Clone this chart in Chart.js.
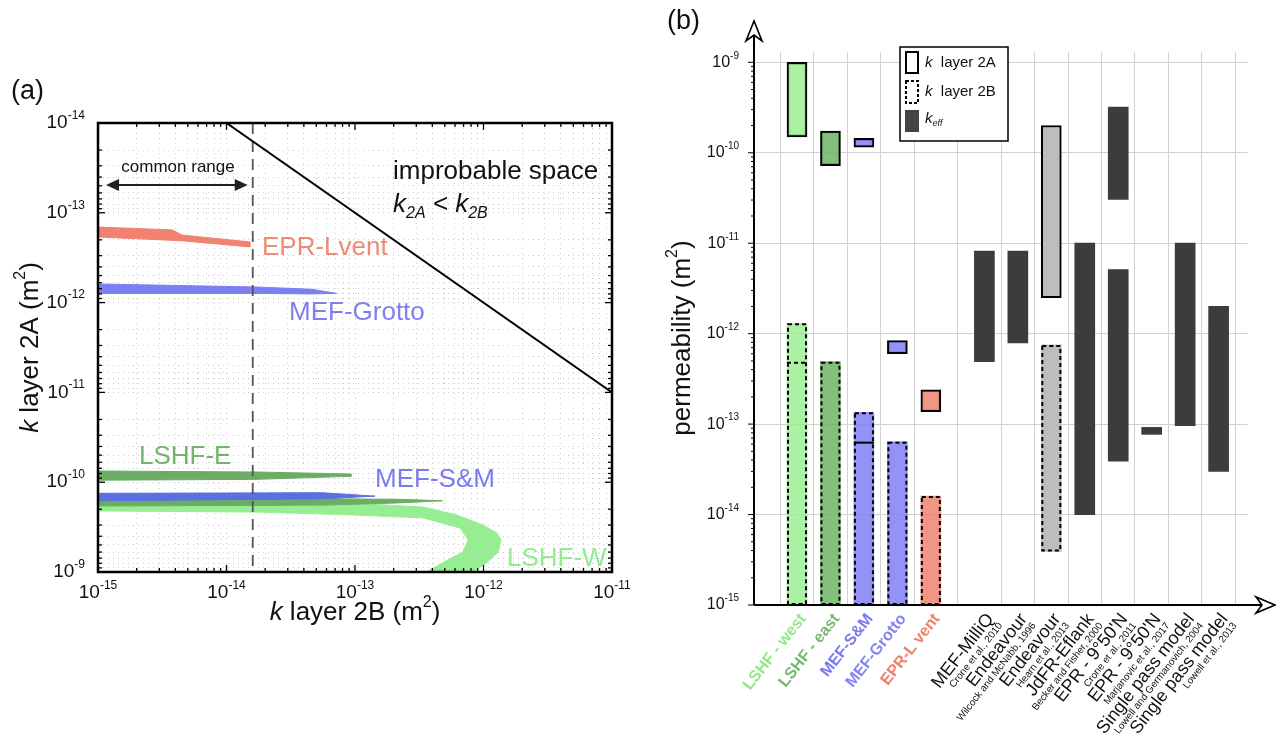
<!DOCTYPE html>
<html>
<head>
<meta charset="utf-8">
<script src="https://cdn.jsdelivr.net/npm/chart.js@4.4.0/dist/chart.umd.min.js"></script>
<style>
html, body { margin: 0; padding: 0; background: #fff; }
#panelA { position: absolute; left: 0; top: 0; width: 640px; height: 742px; }
#panelB { position: absolute; left: 640px; top: 0; width: 636px; height: 742px; }
</style>
</head>
<body>
<div id="panelA"><canvas id="chartA"></canvas></div>
<div id="panelB"><canvas id="chartB"></canvas></div>
<script>
const FONT = '"Liberation Sans", Arial, Helvetica, sans-serif';

// ---------- panel (a) data: solution bands [k layer 2B, k layer 2A] ----------
const eprLvent = [[1e-15,1.44e-13],[3.8e-15,1.55e-13],[4.5e-15,1.77e-13],[1.52e-14,2.11e-13],[1.52e-14,2.4e-13],[4.5e-15,2.05e-13],[1e-15,1.86e-13]];
const mefGrotto = [[1e-15,6.2e-13],[1.7e-14,6.7e-13],[4.6e-14,7.1e-13],[7.2e-14,7.9e-13],[4.6e-14,8.0e-13],[1.7e-14,7.9e-13],[1e-15,7.9e-13]];
const lshfE = [[1e-15,7.5e-11],[1.7e-14,7.7e-11],[9.3e-14,8.1e-11],[9.3e-14,8.6e-11],[1.7e-14,9.3e-11],[1e-15,9.5e-11]];
const lshfE2 = [[1e-15,1.55e-10],[5.6e-14,1.53e-10],[2.2e-13,1.55e-10],[4.8e-13,1.61e-10],[2.2e-13,1.7e-10],[5.6e-14,1.8e-10],[1e-15,1.84e-10]];
const mefSM = [[1e-15,1.33e-10],[5.6e-14,1.31e-10],[1.43e-13,1.43e-10],[5.6e-14,1.53e-10],[1e-15,1.61e-10]];
const lshfW = [[1e-15,1.65e-10],[1e-13,1.72e-10],[3.4e-13,1.89e-10],[6.2e-13,2.32e-10],[9.9e-13,3.0e-10],[1.27e-12,3.68e-10],
  [1.37e-12,4.4e-10],[1.3e-12,6.0e-10],[1.06e-12,7.9e-10],[7.8e-13,1.05e-9],
  [3.3e-13,1.08e-9],[4.8e-13,7.9e-10],[6.9e-13,6.0e-10],[7.6e-13,4.4e-10],[6.6e-13,3.24e-10],[3.4e-13,2.5e-10],
  [1e-13,2.32e-10],[1.7e-14,2.15e-10],[1e-15,2.09e-10]];
const equalLine = [[1e-14,1e-14],[1e-11,1e-11]];   // k2A = k2B
const commonRangeMax = 1.6e-14;
const xDecadesA = [-15, -14, -13, -12, -11];
const yDecadesA = [-14, -13, -12, -11, -10, -9];

// ---------- panel (b) data: permeability ranges [min, max] ----------
const sites = ['LSHF - west','LSHF - east','MEF-S&M','MEF-Grotto','EPR-L vent','MEF-MilliQ','Endeavour','Endeavour',
  'JdFR-Eflank',"EPR - 9°50'N","EPR - 9°50'N",'Single pass model','Single pass model'];
const refs = ['','','','','','Crone et al., 2010','Wilcock and McNabb, 1996','Hearn et al., 2013','Becker and Fisher, 2000',
  'Crone et al., 2011','Marjanovic et al., 2017','Lowell and Germanovich, 2004','Lowell et al., 2013'];
const k2A = [[1.5e-10,1e-9],[7.2e-11,1.74e-10],[1.15e-10,1.44e-10],[6e-13,8.4e-13],[1.37e-13,2.4e-13],null,null,[2.5e-12,2e-10],null,null,null,null,null];
const k2B = [[1e-15,1.3e-12],[1e-15,4.9e-13],[1e-15,1.35e-13],[1e-15,6.4e-14],[1e-15,1.6e-14],null,null,[3.9e-15,7.5e-13],null,null,null,null,null];
const k2Blow = [[1e-15,4.9e-13],null,[1e-15,6.4e-14],null,null,null,null,null,null,null,null,null,null];
const kEff = [null,null,null,null,null,[4.9e-13,8.2e-12],[7.9e-13,8.2e-12],null,[1e-14,1e-11],[3.9e-14,5.1e-12],[7.7e-14,9.2e-14],[9.6e-14,1e-11],[3e-14,2e-12]];
const kEffHigh = [null,null,null,null,null,null,null,null,null,[3.05e-11,3.2e-10],null,null,null];
const yDecadesB = [-15, -14, -13, -12, -11, -10, -9];

// styling
const measuredCount = 5;
const siteFill = ['rgba(150,238,140,0.8)','rgba(112,180,102,0.85)','rgba(128,128,246,0.85)','rgba(128,128,246,0.85)',
  'rgba(238,130,112,0.85)','#3c3c3c','#3c3c3c','#bdbdbd','#3c3c3c','#3c3c3c','#3c3c3c','#3c3c3c','#3c3c3c'];
const siteText = ['#8fe98a','#78b870','#7a7af0','#8585f2','#f0806c','#111','#111','#111','#111','#111','#111','#111','#111'];

// ---------- helpers ----------
function logTicks(e0, e1) {
  const t = [];
  for (let e = e0; e < e1; e++) for (let m = 1; m < 10; m++) t.push({value: m * Math.pow(10, e), major: m === 1});
  t.push({value: Math.pow(10, e1), major: true});
  return t;
}
const toXY = arr => arr.map(p => ({x: p[0], y: p[1]}));

function drawPow(ctx, exp, x, y, align, size) {
  const ss = Math.round(size * 0.62);
  ctx.font = size + 'px ' + FONT;
  const wb = ctx.measureText('10').width;
  ctx.font = ss + 'px ' + FONT;
  const ws = ctx.measureText(String(exp)).width;
  const total = wb + ws;
  const x0 = align === 'right' ? x - total : align === 'center' ? x - total / 2 : x;
  ctx.textAlign = 'left';
  ctx.textBaseline = 'middle';
  ctx.font = size + 'px ' + FONT;
  ctx.fillText('10', x0, y);
  ctx.font = ss + 'px ' + FONT;
  ctx.fillText(String(exp), x0 + wb, y - size * 0.4);
}

function drawRich(ctx, parts, x, y, size, align) {
  const fontOf = p => (p.i ? 'italic ' : '') + (p.s || p.b ? Math.round(size * 0.62) : size) + 'px ' + FONT;
  let total = 0;
  const widths = parts.map(p => { ctx.font = fontOf(p); const w = ctx.measureText(p.t).width; total += w; return w; });
  let cx = align === 'center' ? x - total / 2 : align === 'right' ? x - total : x;
  ctx.textAlign = 'left';
  ctx.textBaseline = 'middle';
  parts.forEach((p, i) => {
    ctx.font = fontOf(p);
    const dy = p.s ? -size * 0.4 : p.b ? size * 0.32 : 0;
    ctx.fillText(p.t, cx, y + dy);
    cx += widths[i];
  });
}

function seg(ctx, x1, y1, x2, y2) {
  ctx.beginPath(); ctx.moveTo(x1, y1); ctx.lineTo(x2, y2); ctx.stroke();
}

// ---------- panel (a) ----------
const bandStyle = c => ({showLine: true, fill: 'shape', backgroundColor: c, borderColor: c, borderWidth: 1, pointRadius: 0, tension: 0});

const panelADecor = {
  id: 'panelADecor',
  afterDraw(chart) {
    const {ctx, chartArea: a, scales: {x, y}} = chart;
    ctx.save();
    ctx.strokeStyle = '#000';
    ctx.lineWidth = 1.3;
    x.ticks.forEach(t => {
      const px = x.getPixelForValue(t.value);
      const len = t.major ? 7 : 4;
      seg(ctx, px, a.bottom, px, a.bottom - len);
      seg(ctx, px, a.top, px, a.top + len);
    });
    y.ticks.forEach(t => {
      const py = y.getPixelForValue(t.value);
      const len = t.major ? 7 : 4;
      seg(ctx, a.left, py, a.left + len, py);
      seg(ctx, a.right, py, a.right - len, py);
    });
    ctx.lineWidth = 2.5;
    ctx.strokeRect(a.left, a.top, a.right - a.left, a.bottom - a.top);

    ctx.fillStyle = '#111';
    xDecadesA.forEach(e => drawPow(ctx, e, x.getPixelForValue(Math.pow(10, e)), a.bottom + 21, 'center', 19));
    yDecadesA.forEach(e => drawPow(ctx, e, a.left - 13, y.getPixelForValue(Math.pow(10, e)), 'right', 19));

    // axis titles
    drawRich(ctx, [{t: 'k', i: 1}, {t: ' layer 2B (m'}, {t: '2', s: 1}, {t: ')'}], (a.left + a.right) / 2, a.bottom + 41, 26, 'center');
    ctx.save();
    ctx.translate(31, (a.top + a.bottom) / 2);
    ctx.rotate(-Math.PI / 2);
    drawRich(ctx, [{t: 'k', i: 1}, {t: ' layer 2A (m'}, {t: '2', s: 1}, {t: ')'}], 0, 0, 26, 'center');
    ctx.restore();

    // annotations
    ctx.font = '26px ' + FONT;
    ctx.textAlign = 'left';
    ctx.textBaseline = 'middle';
    ctx.fillText('improbable space', 393, 172);
    drawRich(ctx, [{t: 'k', i: 1}, {t: '2A', b: 1, i: 1}, {t: ' < ', i: 1}, {t: 'k', i: 1}, {t: '2B', b: 1, i: 1}], 393, 205, 26, 'left');

    ctx.font = '17px ' + FONT;
    ctx.textAlign = 'center';
    ctx.fillText('common range', 178, 167);
    const xr = x.getPixelForValue(commonRangeMax) - 5, xl = a.left + 8, ya = 185;
    ctx.lineWidth = 2;
    ctx.strokeStyle = '#222';
    ctx.fillStyle = '#222';
    seg(ctx, xl + 8, ya, xr - 8, ya);
    ctx.beginPath(); ctx.moveTo(xl, ya); ctx.lineTo(xl + 13, ya - 6); ctx.lineTo(xl + 13, ya + 6); ctx.closePath(); ctx.fill();
    ctx.beginPath(); ctx.moveTo(xr, ya); ctx.lineTo(xr - 13, ya - 6); ctx.lineTo(xr - 13, ya + 6); ctx.closePath(); ctx.fill();

    const labels = [
      ['EPR-Lvent', '#ef8a78', 262, 248],
      ['MEF-Grotto', '#7f7ff0', 289, 313],
      ['LSHF-E', '#76b26f', 139, 457],
      ['MEF-S&M', '#7b7bef', 375, 480],
      ['LSHF-W', '#93ec8e', 507, 559]
    ];
    ctx.font = '26px ' + FONT;
    ctx.textAlign = 'left';
    labels.forEach(([t, c, lx, ly]) => { ctx.fillStyle = c; ctx.fillText(t, lx, ly); });

    ctx.fillStyle = '#111';
    ctx.font = '27px ' + FONT;
    ctx.fillText('(a)', 11, 92);
    ctx.restore();
  }
};

new Chart(document.getElementById('chartA'), {
  type: 'scatter',
  data: {
    datasets: [
      {label: 'k2A = k2B', data: toXY(equalLine), showLine: true, fill: false, borderColor: '#000', borderWidth: 2, pointRadius: 0},
      {label: 'common range', data: [{x: commonRangeMax, y: 1e-14}, {x: commonRangeMax, y: 1e-9}], showLine: true, fill: false,
        borderColor: '#555', borderWidth: 1.8, borderDash: [11, 7], pointRadius: 0},
      {label: 'MEF-S&M', data: toXY(mefSM), ...bandStyle('#5b6fe0')},
      {label: 'LSHF-E', data: toXY(lshfE2), ...bandStyle('#6cad65')},
      {label: 'LSHF-E', data: toXY(lshfE), ...bandStyle('#6cad65')},
      {label: 'MEF-Grotto', data: toXY(mefGrotto), ...bandStyle('#7c7ff2')},
      {label: 'EPR-Lvent', data: toXY(eprLvent), ...bandStyle('#f0826f')},
      {label: 'LSHF-W', data: toXY(lshfW), ...bandStyle('#97ee92')}
    ]
  },
  options: {
    responsive: true,
    maintainAspectRatio: false,
    animation: false,
    events: [],
    layout: {padding: {left: 98, right: 28, top: 123, bottom: 170}, autoPadding: false},
    plugins: {legend: {display: false}, tooltip: {enabled: false}},
    scales: {
      x: {
        type: 'logarithmic', min: 1e-15, max: 1e-11,
        afterBuildTicks: s => { s.ticks = logTicks(-15, -11); },
        afterFit: s => { s.height = 0; },
        ticks: {display: false},
        grid: {color: '#cdcdcd', drawTicks: false},
        border: {display: false, dash: [1, 4]}
      },
      y: {
        type: 'logarithmic', min: 1e-14, max: 1e-9, reverse: true,
        afterBuildTicks: s => { s.ticks = logTicks(-14, -9); },
        afterFit: s => { s.width = 0; },
        ticks: {display: false},
        grid: {color: '#cdcdcd', drawTicks: false},
        border: {display: false, dash: [1, 4]}
      }
    }
  },
  plugins: [panelADecor]
});

// ---------- panel (b) ----------
const sitePos = sites.map((s, i) => i < measuredCount ? i : i + 0.6);
const toBars = arr => arr.map((r, i) => r && {x: sitePos[i], y: r, site: i}).filter(Boolean);
const fillOf = c => c.raw ? siteFill[c.raw.site] : '#888';

const panelBDecor = {
  id: 'panelBDecor',
  afterDatasetsDraw(chart) {
    const ctx = chart.ctx;
    ctx.save();
    ctx.strokeStyle = '#000';
    ctx.lineWidth = 2;
    chart.data.datasets.forEach((ds, di) => {
      if (!ds.outline) return;
      ctx.setLineDash(ds.outline === 'solidTop' ? [] : [4, 3]);
      chart.getDatasetMeta(di).data.forEach(bar => {
        const {x, y, base, width} = bar.getProps(['x', 'y', 'base', 'width'], true);
        const l = x - width / 2 + 1, r = x + width / 2 - 1, t = Math.min(y, base) + 1, b = Math.max(y, base) - 1;
        if (ds.outline === 'dashed') ctx.strokeRect(l, t, r - l, b - t);
        else seg(ctx, l - 1, t, r + 1, t);
      });
    });
    ctx.restore();
  },
  afterDraw(chart) {
    const {ctx, chartArea: a, scales: {x, y}} = chart;
    ctx.save();
    ctx.strokeStyle = '#000';
    ctx.fillStyle = '#111';

    // minor ticks on the y axis
    ctx.lineWidth = 1;
    logTicks(-15, -9).forEach(t => {
      const py = y.getPixelForValue(t.value);
      seg(ctx, a.left - (t.major ? 6 : 3), py, a.left, py);
    });

    // axis lines with arrowheads
    ctx.lineWidth = 2;
    seg(ctx, a.left, a.bottom, a.left, 30);
    seg(ctx, a.left, a.bottom, 626, a.bottom);
    ctx.fillStyle = '#fff';
    ctx.lineWidth = 1.6;
    ctx.beginPath();
    ctx.moveTo(a.left, 21); ctx.lineTo(a.left - 8, 41); ctx.lineTo(a.left, 35); ctx.lineTo(a.left + 8, 41); ctx.closePath();
    ctx.fill(); ctx.stroke();
    ctx.beginPath();
    ctx.moveTo(635, a.bottom); ctx.lineTo(616, a.bottom - 8); ctx.lineTo(622, a.bottom); ctx.lineTo(616, a.bottom + 8); ctx.closePath();
    ctx.fill(); ctx.stroke();

    // y tick labels
    ctx.fillStyle = '#111';
    yDecadesB.forEach(e => drawPow(ctx, e, a.left - 15, y.getPixelForValue(Math.pow(10, e)), 'right', 16));

    // rotated category labels
    const ang = -52 * Math.PI / 180;
    sites.forEach((s, i) => {
      const px = x.getPixelForValue(sitePos[i]);
      ctx.save();
      ctx.translate(px + 6, a.bottom + 11);
      ctx.rotate(ang);
      ctx.textAlign = 'right';
      ctx.textBaseline = 'middle';
      ctx.fillStyle = siteText[i];
      ctx.font = (i < measuredCount ? 'bold 16px ' : '18px ') + FONT;
      ctx.fillText(s, 0, 0);
      if (refs[i]) {
        ctx.font = '10px ' + FONT;
        ctx.fillText(refs[i], 0, 13);
      }
      ctx.restore();
    });

    // y axis title
    ctx.save();
    ctx.translate(43, 338);
    ctx.rotate(-Math.PI / 2);
    drawRich(ctx, [{t: 'permeability (m'}, {t: '2', s: 1}, {t: ')'}], 0, 0, 26, 'center');
    ctx.restore();

    // legend
    const lx = a.left + 146, ly = 47;
    ctx.fillStyle = '#fff';
    ctx.fillRect(lx, ly, 108, 94);
    ctx.lineWidth = 1.5;
    ctx.strokeStyle = '#000';
    ctx.strokeRect(lx, ly, 108, 94);
    ctx.lineWidth = 2;
    ctx.strokeRect(lx + 6, ly + 5, 12, 21);
    ctx.setLineDash([3, 2]);
    ctx.strokeRect(lx + 6, ly + 34, 12, 22);
    ctx.setLineDash([]);
    ctx.fillStyle = '#444';
    ctx.fillRect(lx + 5, ly + 63, 14, 22);
    ctx.fillStyle = '#111';
    drawRich(ctx, [{t: 'k', i: 1}, {t: '  layer 2A'}], lx + 25, ly + 16, 15, 'left');
    drawRich(ctx, [{t: 'k', i: 1}, {t: '  layer 2B'}], lx + 25, ly + 45, 15, 'left');
    drawRich(ctx, [{t: 'k', i: 1}, {t: 'eff', b: 1, i: 1}], lx + 25, ly + 72, 15, 'left');

    ctx.font = '27px ' + FONT;
    ctx.textAlign = 'left';
    ctx.textBaseline = 'middle';
    ctx.fillText('(b)', 27, 22);
    ctx.restore();
  }
};

new Chart(document.getElementById('chartB'), {
  type: 'bar',
  data: {
    datasets: [
      {label: 'k layer 2A', data: toBars(k2A), backgroundColor: fillOf, borderColor: '#000', borderWidth: 2, borderSkipped: false},
      {label: 'k layer 2B (lower)', data: toBars(k2Blow).slice(0, 1), backgroundColor: 'rgba(0,0,0,0)', borderWidth: 0, outline: 'dashTop'},
      {label: 'k layer 2B (lower)', data: toBars(k2Blow).slice(1), backgroundColor: 'rgba(0,0,0,0)', borderWidth: 0, outline: 'solidTop'},
      {label: 'k layer 2B', data: toBars(k2B), backgroundColor: fillOf, borderWidth: 0, outline: 'dashed'},
      {label: 'k eff', data: toBars(kEff), backgroundColor: fillOf, borderWidth: 0},
      {label: 'k eff', data: toBars(kEffHigh), backgroundColor: fillOf, borderWidth: 0}
    ]
  },
  options: {
    responsive: true,
    maintainAspectRatio: false,
    animation: false,
    events: [],
    layout: {padding: {left: 114, right: 28, top: 52, bottom: 137}, autoPadding: false},
    datasets: {bar: {grouped: false, barThickness: 20}},
    plugins: {legend: {display: false}, tooltip: {enabled: false}},
    scales: {
      x: {
        type: 'linear', min: -0.717, max: 12.91,
        afterBuildTicks: s => { s.ticks = sitePos.map(v => ({value: v})); },
        afterFit: s => { s.height = 0; },
        ticks: {display: false},
        grid: {color: '#d2d2d2', drawTicks: false},
        border: {display: false}
      },
      y: {
        type: 'logarithmic', min: 1e-15, max: 1.3e-9,
        afterBuildTicks: s => { s.ticks = yDecadesB.map(e => ({value: Math.pow(10, e), major: true})); },
        afterFit: s => { s.width = 0; },
        ticks: {display: false},
        grid: {color: '#d2d2d2', drawTicks: false},
        border: {display: false}
      }
    }
  },
  plugins: [panelBDecor]
});
</script>
</body>
</html>
